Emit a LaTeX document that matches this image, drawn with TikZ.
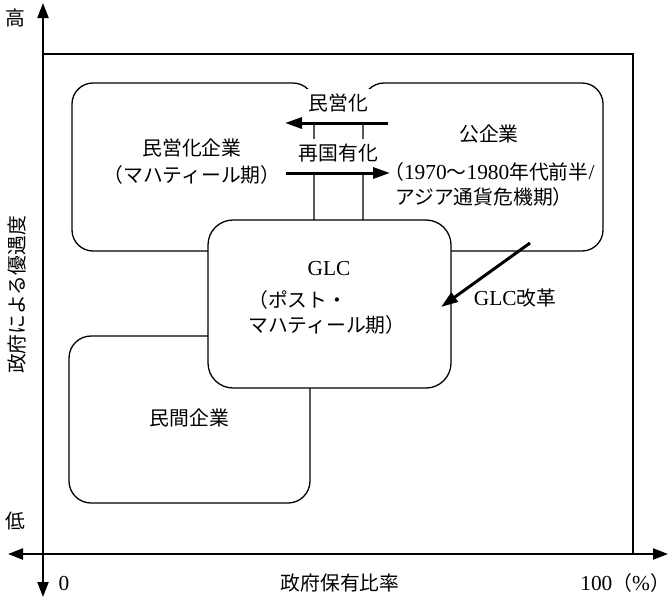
\documentclass[tikz,border=0pt]{standalone}
\usepackage{fontspec}
\setmainfont{Liberation Serif}[Scale=1.08]
\newfontfamily\jp{Noto Sans CJK JP}
\usetikzlibrary{arrows.meta}
\newcommand\J[1]{{\jp #1}}
\begin{document}
\begin{tikzpicture}[x=1pt,y=-1pt,
  lbl/.style={inner sep=0pt, font=\fontsize{19.8}{23}\selectfont},
  box/.style={draw, line width=1.3pt, rounded corners=21pt, inner sep=0pt, fill=white},
  axis/.style={line width=2.2pt, {Triangle[length=15pt,width=11pt]}-{Triangle[length=15pt,width=11pt]}},
  bigarrow/.style={line width=3pt, -{Triangle[length=17pt,width=11pt]}},
  cover/.style={fill=white, inner sep=0pt}]
\useasboundingbox (0,0) rectangle (671,598);
% frame
\draw[line width=1.2pt] (43,54) -- (633,54) -- (633,554);
% boxes
\node[box, minimum width=242pt, minimum height=168pt] (lt) at (193,167) {};
\node[box, minimum width=240pt, minimum height=168pt] (rt) at (483,167) {};
\node[box, minimum width=241pt, minimum height=167pt, rounded corners=22pt] (pv) at (189.5,419.5) {};
\node[box, minimum width=243pt, minimum height=168pt, rounded corners=25pt] (glc) at (329.5,304) {};
% covers
\node[cover, minimum width=63pt, minimum height=33pt] (c1) at (338.5,105.5) {};
\node[cover, minimum width=80pt, minimum height=33pt] (c2) at (338,155.5) {};
% axes
\coordinate (ytop) at (43,3);
\coordinate (ybot) at (43,597);
\coordinate (xl) at (8,554);
\coordinate (xr) at (668,554);
\draw[axis] (ybot) -- (ytop);
\draw[axis] (xl) -- (xr);
% axis labels
\node[lbl] (hi) at (15,18) {\J{高}};
\node[lbl] (lo) at (15,521) {\J{低}};
\node[lbl, rotate=90] (ylab) at (17,295) {\J{政府による優遇度}};
\node[lbl] (zero) at (64,583) {0};
\node[lbl] (xlab) at (340,583) {\J{政府保有比率}};
\node[lbl, anchor=east] (hund) at (670,583) {100\J{（}\%\J{）}};
% box texts
\node[lbl] (t1) at (192,148) {\J{民営化企業}};
\node[lbl] (t2) at (192,175) {\J{（マハティール期）}};
\node[lbl] (t3) at (489,134) {\J{公企業}};
\node[lbl, anchor=west] (t4) at (384,172) {\J{（}1970\J{〜}1980\J{年代前半}/};
\node[lbl, anchor=west] (t5) at (395,197) {\J{アジア通貨危機期）}};
\node[lbl] (t6) at (329,269) {GLC};
\node[lbl, anchor=west] (t7) at (248,300) {\J{（ポスト・}};
\node[lbl, anchor=west] (t8) at (248,325) {\J{マハティール期）}};
\node[lbl] (t9) at (189.5,418) {\J{民間企業}};
% arrows
\node[lbl] (l1) at (338.5,103) {\J{民営化}};
\node[lbl] (l2) at (338.5,153) {\J{再国有化}};
\coordinate (a1s) at (388,123);
\coordinate (a1e) at (285,123);
\coordinate (a2s) at (286,173);
\coordinate (a2e) at (390,173);
\coordinate (a3s) at (530,243);
\coordinate (a3e) at (441,307);
\draw[bigarrow] (a1s) -- (a1e);
\draw[bigarrow] (a2s) -- (a2e);
\draw[bigarrow] (a3s) -- (a3e);
\node[lbl] (l3) at (515,298) {GLC\J{改革}};
\end{tikzpicture}
\end{document}
